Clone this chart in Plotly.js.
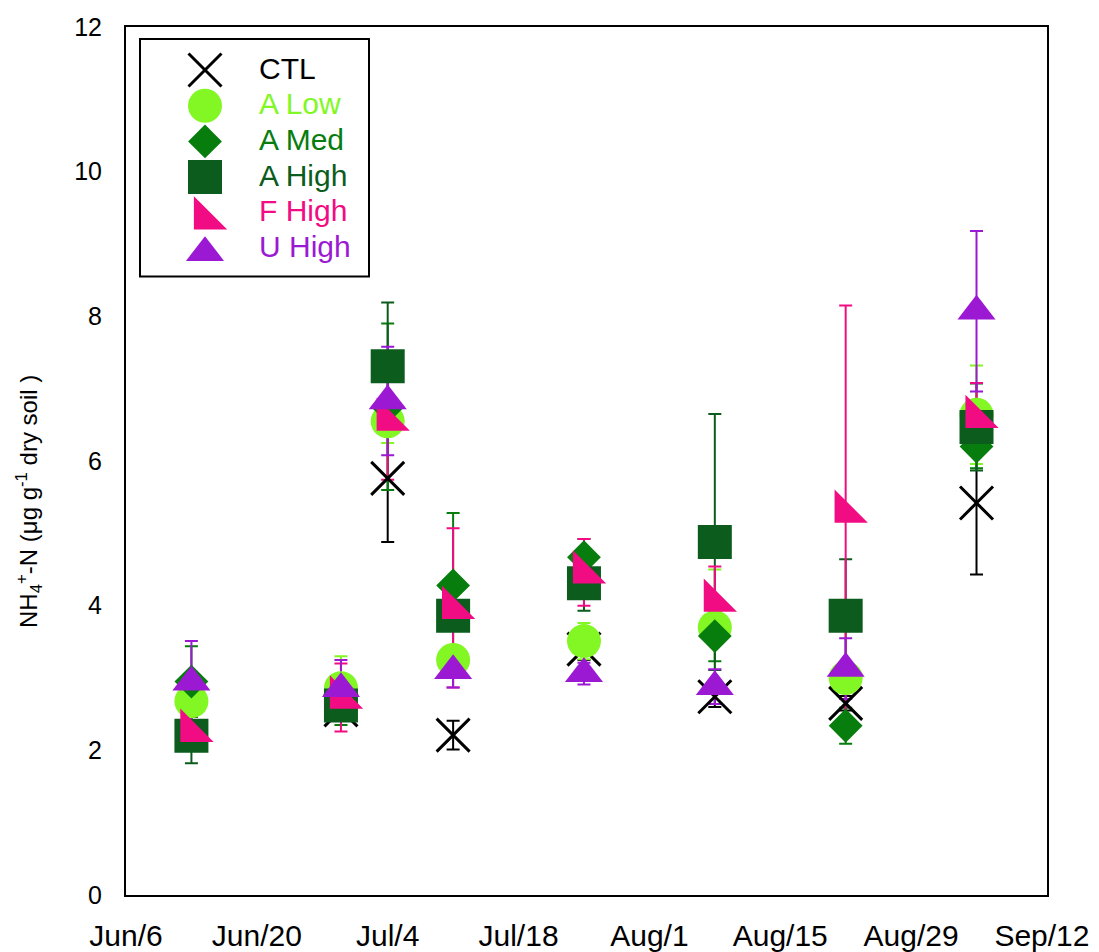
<!DOCTYPE html>
<html>
<head>
<meta charset="utf-8">
<script src="https://cdn.plot.ly/plotly-3.0.1.min.js"></script>
<style>
  html, body { margin: 0; padding: 0; background: #ffffff; }
  #chart { width: 1099px; height: 952px; }
</style>
</head>
<body>
<div id="chart"></div>
<script>
// ---------------- data ----------------
const sampleDates = ['2012-06-13', '2012-06-29', '2012-07-04', '2012-07-11', '2012-07-25', '2012-08-08', '2012-08-22', '2012-09-05'];
const tickDates   = ['2012-06-06', '2012-06-20', '2012-07-04', '2012-07-18', '2012-08-01', '2012-08-15', '2012-08-29', '2012-09-12'];
const tickLabels  = ['Jun/6', 'Jun/20', 'Jul/4', 'Jul/18', 'Aug/1', 'Aug/15', 'Aug/29', 'Sep/12'];
const yTickValues = [0, 2, 4, 6, 8, 10, 12];

const seriesNames = ['CTL', 'A Low', 'A Med', 'A High', 'F High', 'U High'];

const ctlMean   = [null, 2.56, 5.76, 2.21, 3.40, 2.74, 2.65, 5.42];
const ctlSE     = [null, 0.10, 0.88, 0.20, 0.15, 0.14, 0.10, 0.99];
const aLowMean  = [2.68, 2.86, 6.55, 3.25, 3.51, 3.70, 3.00, 6.64];
const aLowSE    = [0.20, 0.44, 0.30, 0.20, 0.25, 0.80, 0.20, 0.68];
const aMedMean  = [2.95, 2.65, 6.75, 4.28, 4.67, 3.58, 2.34, 6.20];
const aMedSE    = [0.49, 0.30, 1.15, 1.00, 0.25, 0.35, 0.25, 0.30];
const aHighMean = [2.20, 2.62, 7.31, 3.86, 4.31, 4.88, 3.86, 6.47];
const aHighSE   = [0.38, 0.20, 0.88, 0.20, 0.38, 1.77, 0.78, 0.60];
const fHighMean = [2.27, 2.73, 6.57, 3.97, 4.46, 4.07, 5.30, 6.61];
const fHighSE   = [0.20, 0.47, 0.83, 1.10, 0.46, 0.47, 2.85, 0.47];
const uHighMean = [2.94, 2.85, 6.83, 3.10, 3.06, 2.88, 3.13, 8.07];
const uHighSE   = [0.57, 0.40, 0.75, 0.23, 0.15, 0.24, 0.42, 1.11];

const seriesMeans = [ctlMean, aLowMean, aMedMean, aHighMean, fHighMean, uHighMean];
const seriesSEs   = [ctlSE, aLowSE, aMedSE, aHighSE, fHighSE, uHighSE];

// ---------------- styles ----------------
const seriesStyles = [
  { color: '#000000', symbol: 'x-thin',       size: 33, line: 3 },
  { color: '#82f724', symbol: 'circle',       size: 34, line: 0 },
  { color: '#067d0d', symbol: 'diamond',      size: 26, line: 0 },
  { color: '#0b5c1d', symbol: 'square',       size: 34, line: 0 },
  { color: '#f20c83', symbol: 'triangle-sw',  size: 37, line: 0 },
  { color: '#9b19d3', symbol: 'triangle-up',  size: 33, line: 0 }
];

const FONT = 'Liberation Sans, Arial, Helvetica, sans-serif';

function markerFor(st) {
  return {
    symbol: st.symbol,
    size: st.size,
    color: st.color,
    line: { width: st.line, color: st.color }
  };
}

const traces = [];

// error bars first (all below every marker)
seriesNames.forEach((name, i) => {
  traces.push({
    type: 'scatter', mode: 'markers',
    x: sampleDates, y: seriesMeans[i],
    xaxis: 'x', yaxis: 'y',
    marker: { size: 2, color: 'rgba(0,0,0,0)' },
    error_y: { type: 'data', array: seriesSEs[i], visible: true,
               color: seriesStyles[i].color, thickness: 2, width: 6.5 },
    showlegend: false, hoverinfo: 'skip'
  });
});

// markers
seriesNames.forEach((name, i) => {
  traces.push({
    type: 'scatter', mode: 'markers', name: name,
    x: sampleDates, y: seriesMeans[i],
    xaxis: 'x', yaxis: 'y',
    marker: markerFor(seriesStyles[i]),
    showlegend: false
  });
});

// ---------------- custom legend (own pixel-like axes) ----------------
const legendSymbolX = 205;
const legendRow0 = 70;
const legendRowGap = 35.7;
const legendTextX = 257;

function symbolCenterOffset(st) {
  if (st.symbol === 'triangle-sw') return 0.15 * st.size;
  if (st.symbol === 'triangle-up') return 0.125 * st.size;
  return 0;
}

const annotations = [];
seriesNames.forEach((name, i) => {
  const st = seriesStyles[i];
  const rowY = legendRow0 + legendRowGap * i;
  traces.push({
    type: 'scatter', mode: 'markers',
    x: [legendSymbolX], y: [rowY + symbolCenterOffset(st)],
    xaxis: 'x2', yaxis: 'y2',
    marker: markerFor(st), showlegend: false, hoverinfo: 'skip', cliponaxis: false
  });
  annotations.push({
    xref: 'x2', yref: 'y2', x: legendTextX, y: rowY - 2,
    xanchor: 'left', yanchor: 'middle', showarrow: false,
    text: name, font: { family: FONT, size: 30, color: st.color }
  });
});

// y-axis title
annotations.push({
  xref: 'paper', yref: 'paper',
  x: (29 - 126) / 921, y: (895 - 502) / 868,
  xanchor: 'center', yanchor: 'middle', textangle: -90, showarrow: false,
  text: 'NH<sub>4</sub><sup>+</sup>-N (μg g<sup>-1</sup> dry soil )',
  font: { family: FONT, size: 24, color: '#000000' }
});

const layout = {
  width: 1099, height: 952,
  margin: { l: 126, r: 52, t: 27, b: 57, pad: 0 },
  paper_bgcolor: '#ffffff', plot_bgcolor: '#ffffff',
  showlegend: false,
  font: { family: FONT, color: '#000000' },
  xaxis: {
    type: 'date',
    range: ['2012-06-06', '2012-09-12 13:00'],
    tickmode: 'array', tickvals: tickDates, ticktext: tickLabels,
    ticks: '', showgrid: false, zeroline: false,
    showline: true, mirror: true, linecolor: '#000000', linewidth: 2,
    tickfont: { family: FONT, size: 30, color: '#000000' },
    ticklabelstandoff: 13
  },
  yaxis: {
    range: [0, 12],
    tickmode: 'array', tickvals: yTickValues,
    ticks: '', showgrid: false, zeroline: false,
    showline: true, mirror: true, linecolor: '#000000', linewidth: 2,
    tickfont: { family: FONT, size: 25, color: '#000000' },
    ticklabelstandoff: 17
  },
  xaxis2: {
    domain: [(135 - 126) / 921, (375 - 126) / 921], range: [135, 375],
    anchor: 'y2', visible: false, fixedrange: true
  },
  yaxis2: {
    domain: [(895 - 282) / 868, (895 - 34) / 868], range: [282, 34],
    anchor: 'x2', visible: false, fixedrange: true
  },
  shapes: [{
    type: 'rect', xref: 'x2', yref: 'y2',
    x0: 140, x1: 369, y0: 39, y1: 276.5,
    line: { color: '#000000', width: 2 }, fillcolor: 'rgba(0,0,0,0)'
  }],
  annotations: annotations
};

Plotly.newPlot('chart', traces, layout, { displayModeBar: false, responsive: false });
</script>
</body>
</html>
